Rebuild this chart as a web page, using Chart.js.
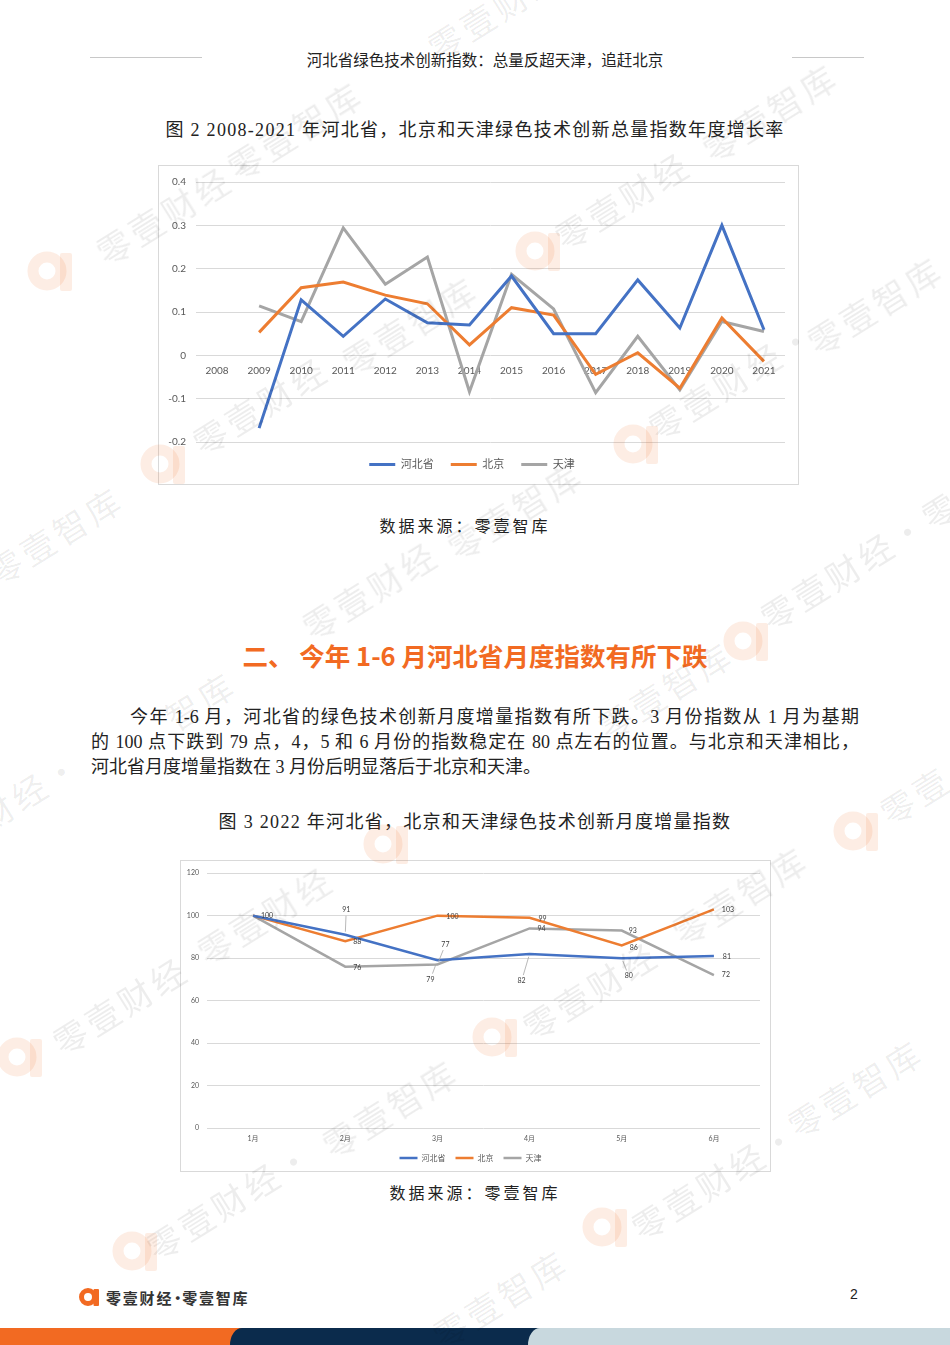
<!DOCTYPE html>
<html lang="zh">
<head>
<meta charset="UTF-8">
<title>河北省绿色技术创新指数</title>
<script src="https://cdn.jsdelivr.net/npm/chart.js"></script>
<style>
  body { margin: 0; }
  .page { position: relative; width: 950px; height: 1345px; background: #fff; overflow: hidden;
          font-family: "Liberation Serif", "Noto Sans CJK SC", serif; color: #222; }
  .abs { position: absolute; }
  .center { position: absolute; left: 0; width: 950px; text-align: center; white-space: nowrap; }
  .rule { position: absolute; height: 1px; background: #c8c8c8; top: 57px; }
  .box { position: absolute; border: 1px solid #d9d9d9; box-sizing: border-box; }
  .box canvas { position: absolute; left: 0; top: 0; }
  .para { position: absolute; left: 91px; width: 768px; font-size: 18px; line-height: 25px; }
  .para div { text-align: justify; text-align-last: justify; white-space: nowrap; }
  .para div.last { text-align-last: left; }
  .wm { position: absolute; font-family: "Noto Sans CJK SC"; font-size: 34px; color: rgba(0,0,0,0.07);
        white-space: nowrap; transform: translate(-50%, -50%) rotate(-32deg); pointer-events: none; letter-spacing: 4px; }
  .wlogo { position: absolute; pointer-events: none; transform: translate(-50%, -50%); }
</style>
</head>
<body>
<div class="page" id="page">
  <div class="rule" style="left:90px;width:112px"></div>
  <div class="rule" style="left:792px;width:72px"></div>
  <div class="center" style="top:48px;font-size:15.5px;left:10px">河北省绿色技术创新指数：总量反超天津，追赶北京</div>

  <div class="center" style="top:115px;font-size:18px;letter-spacing:1.3px">图 2 2008-2021 年河北省，北京和天津绿色技术创新总量指数年度增长率</div>
  <div class="box" style="left:158px;top:165px;width:641px;height:320px">
    <canvas id="growthChart" width="640" height="319"></canvas>
  </div>
  <div class="center" style="top:513px;font-size:16px;letter-spacing:3px;left:-10px">数据来源：零壹智库</div>

  <div class="center" style="top:636px;font-size:25.5px;font-weight:bold;color:#f26a22;font-family:'Noto Sans CJK SC'">二、 今年 1-6 月河北省月度指数有所下跌</div>

  <div class="para" style="top:705px">
    <div style="padding-left:39px">今年 1-6 月，河北省的绿色技术创新月度增量指数有所下跌。3 月份指数从 1 月为基期</div>
    <div>的 100 点下跌到 79 点，4，5 和 6 月份的指数稳定在 80 点左右的位置。与北京和天津相比，</div>
    <div class="last">河北省月度增量指数在 3 月份后明显落后于北京和天津。</div>
  </div>

  <div class="center" style="top:807px;font-size:18px;letter-spacing:1.3px">图 3 2022 年河北省，北京和天津绿色技术创新月度增量指数</div>
  <div class="box" style="left:180px;top:860px;width:591px;height:312px">
    <canvas id="monthlyChart" width="590" height="311"></canvas>
  </div>
  <div class="center" style="top:1180px;font-size:16px;letter-spacing:3px">数据来源：零壹智库</div>

  <svg class="abs" style="left:79px;top:1287px" width="22" height="20" viewBox="0 0 22 20">
    <circle cx="9" cy="10" r="6.5" fill="none" stroke="#f26a22" stroke-width="5"/>
    <rect x="14.5" y="2" width="5.5" height="17" rx="1" fill="#f26a22"/>
  </svg>
  <div class="abs" style="left:106px;top:1287px;font-size:15px;font-weight:bold;letter-spacing:1.8px;color:#333;font-family:'Noto Sans CJK SC'">零壹财经<span style="letter-spacing:0;margin:0 -3px">·</span>零壹智库</div>
  <div class="abs" style="left:850px;top:1286px;font-size:14px;font-family:'Liberation Sans'">2</div>

  <div class="abs" style="left:0;top:1328px;width:950px;height:17px;background:#c8d8de"></div>
  <div class="abs" style="left:0;top:1328px;width:245px;height:17px;background:#f26a22"></div>
  <div class="abs" style="left:230px;top:1328px;width:310px;height:17px;background:#0b2b4c;border-top-left-radius:12px 17px"></div>
  <div class="abs" style="left:528px;top:1328px;width:422px;height:17px;background:#c8d8de;border-top-left-radius:12px 17px"></div>
</div>

<script>
// 图2：年度增长率
const years = ['2008', '2009', '2010', '2011', '2012', '2013', '2014', '2015', '2016', '2017', '2018', '2019', '2020', '2021'];
const hebeiGrowth   = [null, -0.168, 0.128, 0.044, 0.130, 0.075, 0.070, 0.183, 0.050, 0.050, 0.174, 0.063, 0.300, 0.059];
const beijingGrowth = [null, 0.053, 0.156, 0.169, 0.139, 0.119, 0.024, 0.110, 0.093, -0.044, 0.006, -0.076, 0.086, -0.014];
const tianjinGrowth = [null, 0.114, 0.078, 0.294, 0.164, 0.227, -0.084, 0.187, 0.107, -0.086, 0.044, -0.080, 0.078, 0.055];

// 图3：月度增量指数
const months = ['1月', '2月', '3月', '4月', '5月', '6月'];
const hebeiMonthly   = [100, 91, 79, 82, 80, 81];
const beijingMonthly = [100, 88, 100, 99, 86, 103];
const tianjinMonthly = [100, 76, 77, 94, 93, 72];

const seriesNames = ['河北省', '北京', '天津'];
const colors = ['#4472c4', '#ed7d31', '#a5a5a5'];

Chart.defaults.font.family = 'Lato, "Noto Sans CJK SC", sans-serif';
Chart.defaults.color = '#595959';

// label offsets from each point [dx, dy, leader line]
const labelSpots = [
  [[14, 0], [1, -25, 1], [-7, 19, 1], [-8, 27, 1], [7, 18, 1], [13, 1]],
  [null, [12, 1], [15, 1], [13, 1], [12, 2], [14, 0]],
  [null, [12, 1], [8, -20, 1], [12, 0], [11, 0], [12, 0]]
];

const pointLabels = {
  id: 'pointLabels',
  afterDatasetsDraw(chart) {
    const ctx = chart.ctx;
    ctx.save();
    ctx.font = '7px Lato';
    ctx.textAlign = 'center';
    ctx.textBaseline = 'middle';
    chart.data.datasets.forEach((ds, i) => {
      chart.getDatasetMeta(i).data.forEach((pt, j) => {
        const spot = labelSpots[i][j];
        if (!spot) return;
        const [dx, dy, leader] = spot;
        const lx = pt.x + dx, ly = pt.y + dy;
        if (leader) {
          const len = Math.hypot(dx, dy);
          const ux = dx / len, uy = dy / len;
          ctx.strokeStyle = '#a6a6a6';
          ctx.lineWidth = 0.8;
          ctx.beginPath();
          ctx.moveTo(lx - ux * 6, ly - uy * 6);
          ctx.lineTo(pt.x + ux * 3, pt.y + uy * 3);
          ctx.stroke();
        }
        ctx.fillStyle = '#404040';
        ctx.fillText(String(ds.data[j]), lx, ly);
      });
    });
    ctx.restore();
  }
};

function makeSets(lists, width) {
  return lists.map((d, i) => ({
    label: seriesNames[i],
    data: d,
    borderColor: colors[i],
    backgroundColor: colors[i],
    borderWidth: width,
    pointRadius: 0,
    tension: 0
  }));
}

new Chart(document.getElementById('growthChart'), {
  type: 'line',
  data: { labels: years, datasets: makeSets([hebeiGrowth, beijingGrowth, tianjinGrowth], 3) },
  options: {
    responsive: false,
    animation: false,
    layout: { padding: { left: 0, right: 14, top: 10, bottom: 5 } },
    plugins: {
      tooltip: { enabled: false },
      legend: {
        position: 'bottom',
        labels: { usePointStyle: true, pointStyle: 'line', pointStyleWidth: 26, padding: 17,
                  font: { size: 11 }, color: '#595959' }
      }
    },
    scales: {
      x: {
        offset: true,
        position: { y: 0 },
        grid: { display: false, drawTicks: false },
        border: { display: false },
        ticks: { font: { size: 10 }, padding: 9, autoSkip: false, maxRotation: 0 }
      },
      y: {
        min: -0.2, max: 0.4,
        ticks: { stepSize: 0.1, font: { size: 10 }, padding: 10,
                 callback: v => String(Number(v.toFixed(1))) },
        grid: { color: '#d9d9d9', drawTicks: false },
        border: { display: false },
        afterFit(s) { s.width = 37; }
      }
    }
  }
});

new Chart(document.getElementById('monthlyChart'), {
  type: 'line',
  data: { labels: months, datasets: makeSets([hebeiMonthly, beijingMonthly, tianjinMonthly], 2.5) },
  plugins: [pointLabels],
  options: {
    responsive: false,
    animation: false,
    layout: { padding: { left: 0, right: 11, top: 11, bottom: 0 } },
    plugins: {
      tooltip: { enabled: false },
      legend: {
        position: 'bottom',
        labels: { usePointStyle: true, pointStyle: 'line', pointStyleWidth: 18, padding: 10,
                  font: { size: 8 }, color: '#595959' }
      }
    },
    scales: {
      x: {
        offset: true,
        grid: { display: false, drawTicks: false },
        border: { display: false },
        ticks: { font: { size: 7 }, padding: 7, maxRotation: 0 },
        afterFit(s) { s.height = 16; }
      },
      y: {
        min: 0, max: 120,
        ticks: { stepSize: 20, font: { size: 7 }, padding: 8 },
        grid: { color: '#d9d9d9', drawTicks: false },
        border: { display: false },
        afterFit(s) { s.width = 26; }
      }
    }
  }
});

// watermarks
const marks = [
  ['零壹财经', 495, 10], ['零壹智库', 295, 130], ['零壹智库', 770, 112], ['零壹财经·', 180, 205],
  ['零壹财经', 622, 200], ['零壹财经', 260, 405], ['零壹智库', 410, 325], ['零壹智库', 515, 510],
  ['零壹财经·', 732, 380], ['零壹智库', 875, 305], ['零壹智库', 55, 535], ['零壹财经', 370, 590],
  ['零壹财经·零', 860, 560], ['零壹智库', 665, 690], ['智库', 200, 700], ['财经·', 30, 790],
  ['零壹', 915, 795], ['零壹智库', 740, 895], ['零壹财经', 265, 915], ['零壹财经', 120, 1005],
  ['零壹智库', 390, 1108], ['零壹财经', 590, 990], ['零壹智库', 855, 1088], ['零壹财经·', 715, 1180],
  ['零壹财经·', 230, 1200], ['零壹智库', 500, 1298]
];
const logos = [[52, 272], [540, 252], [165, 465], [638, 445], [748, 642], [388, 845], [858, 832],
               [22, 1058], [497, 1038], [607, 1228], [137, 1252]];
const page = document.getElementById('page');
marks.forEach(([t, x, y]) => {
  const d = document.createElement('div');
  d.className = 'wm';
  d.textContent = t;
  d.style.left = x + 'px';
  d.style.top = y + 'px';
  page.appendChild(d);
});
logos.forEach(([x, y]) => {
  const d = document.createElement('div');
  d.className = 'wlogo';
  d.style.left = x + 'px';
  d.style.top = y + 'px';
  d.innerHTML = '<svg width="50" height="46" viewBox="0 0 50 46"><circle cx="20" cy="24" r="14" fill="none" stroke="rgba(242,106,34,0.12)" stroke-width="11"/><rect x="33" y="6" width="12" height="38" rx="2" fill="rgba(242,106,34,0.12)"/></svg>';
  page.appendChild(d);
});
</script>
</body>
</html>
